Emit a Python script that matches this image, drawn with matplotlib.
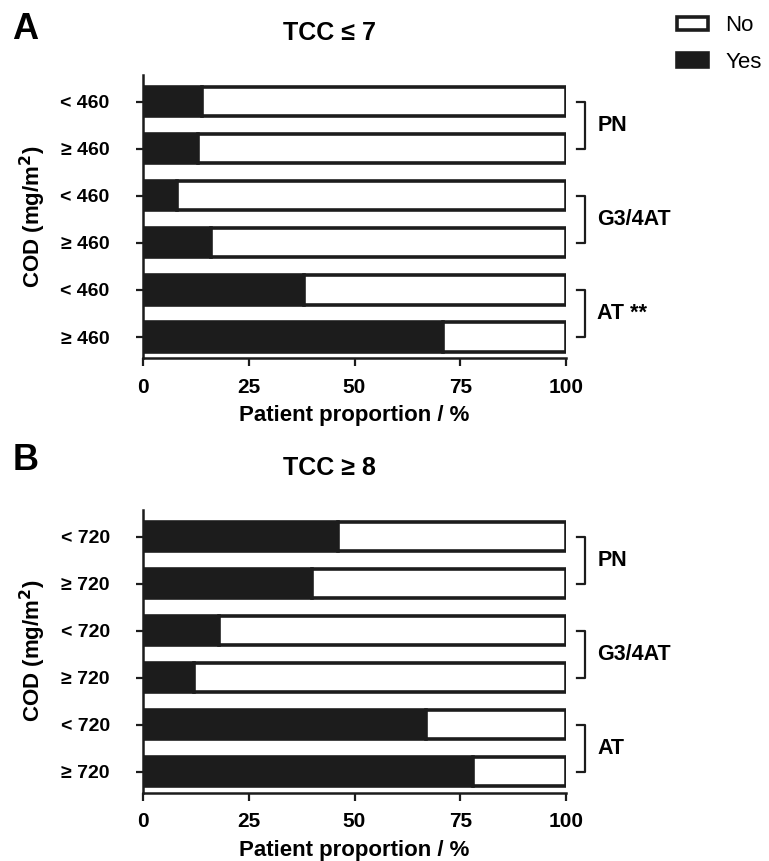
import numpy as np
import matplotlib.pyplot as plt
from matplotlib.patches import Patch

plt.rcParams['font.family'] = ['Liberation Sans', 'DejaVu Sans']
plt.rcParams['font.weight'] = 'bold'

# data (percent of patients with the adverse event)
labels_a = ["< 460", "≥ 460", "< 460", "≥ 460", "< 460", "≥ 460"]
labels_b = ["< 720", "≥ 720", "< 720", "≥ 720", "< 720", "≥ 720"]
yes_a = [14, 13, 8, 16, 38, 71]
yes_b = [46, 40, 18, 12, 67, 78]
groups_a = ["PN", "G3/4AT", "AT **"]
groups_b = ["PN", "G3/4AT", "AT"]
titles = ["TCC ≤ 7", "TCC ≥ 8"]
panels = ["A", "B"]

black = "#1c1c1c"
lw = 2.6

fig = plt.figure(figsize=(7.69, 8.61), dpi=100)
ax_a = fig.add_axes([0.186, 0.584, 0.550, 0.329])
ax_b = fig.add_axes([0.186, 0.079, 0.550, 0.329])


def draw(ax, labels, yes, groups):
    y = np.arange(len(labels))
    yes = np.array(yes)
    no = 100 - yes
    ax.barh(y, yes, height=0.62, color=black, edgecolor=black, linewidth=lw)
    ax.barh(y, no, left=yes, height=0.62, color="white", edgecolor=black, linewidth=lw)
    ax.set_xlim(0, 100)
    ax.set_ylim(5.45, -0.57)
    ax.set_xticks([0, 25, 50, 75, 100])
    ax.set_yticks(y)
    ax.set_yticklabels(labels)
    for s in ["top", "right"]:
        ax.spines[s].set_visible(False)
    for s in ["left", "bottom"]:
        ax.spines[s].set_linewidth(1.8)
        ax.spines[s].set_color(black)
    ax.tick_params(axis="y", length=5, width=1.6, pad=19, labelsize=14, color=black)
    ax.tick_params(axis="x", length=6, width=1.6, pad=8, labelsize=15, color=black)
    ax.set_xlabel("Patient proportion / %", fontsize=16, fontweight="bold", labelpad=6)
    ax.set_ylabel("COD (mg/m$^\\mathbf{2}$)", fontsize=16, fontweight="bold", labelpad=9)
    # brackets for each event group
    for i, g in enumerate(groups):
        y0, y1 = 2 * i, 2 * i + 1
        ax.plot([102.7, 104.4, 104.4, 102.7], [y0, y0, y1, y1], color=black,
                lw=1.6, clip_on=False)
        ax.text(107.4, (y0 + y1) / 2, g, fontsize=15.5, fontweight="bold",
                va="center", ha="left")


draw(ax_a, labels_a, yes_a, groups_a)
draw(ax_b, labels_b, yes_b, groups_b)

fig.text(0.429, 0.962, titles[0], fontsize=18, fontweight="bold", ha="center", va="center")
fig.text(0.429, 0.456, titles[1], fontsize=18, fontweight="bold", ha="center", va="center")
fig.text(0.016, 0.966, panels[0], fontsize=26, fontweight="heavy", ha="left", va="center")
fig.text(0.016, 0.465, panels[1], fontsize=26, fontweight="heavy", ha="left", va="center")

handles = [Patch(facecolor="white", edgecolor=black, linewidth=2.6),
           Patch(facecolor=black, edgecolor=black, linewidth=2.6)]
fig.legend(handles, ["No", "Yes"], loc="upper left", bbox_to_anchor=(0.880, 0.982),
           frameon=False, borderpad=0, borderaxespad=0,
           handlelength=1.4, handleheight=0.55, handletextpad=0.8,
           labelspacing=0.7, prop={"size": 16, "weight": "normal"})

fig.savefig("out.png", dpi=100)
